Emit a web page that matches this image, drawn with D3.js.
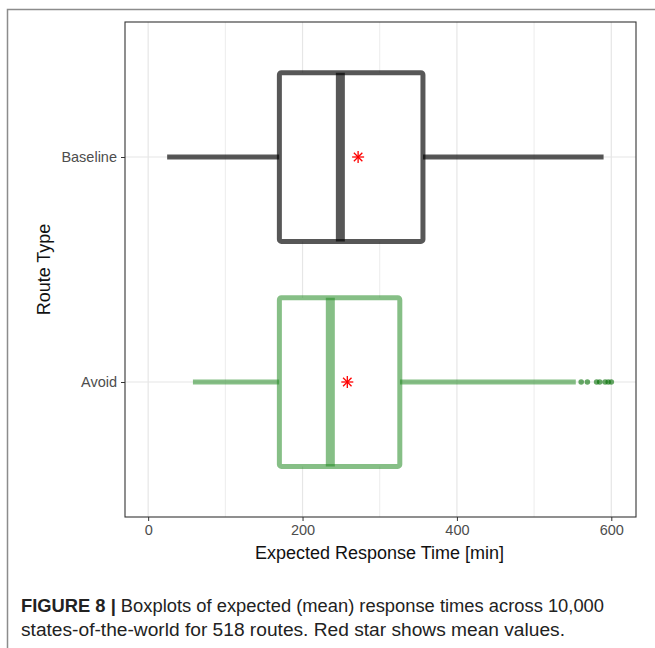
<!DOCTYPE html>
<html>
<head>
<meta charset="utf-8">
<script src="https://cdn.jsdelivr.net/npm/d3@7"></script>
<style>
  body { margin: 0; background: #fff; }
  text { font-family: "Liberation Sans", Arial, sans-serif; }
</style>
</head>
<body>
<script>
// Route types, top to bottom
var categories = ["Baseline", "Avoid"];
// Box statistics (minutes)
var whiskerLow  = [24.6, 58];
var q1          = [170, 170];
var median      = [249, 236];
var q3          = [356, 326];
var whiskerHigh = [590, 554];
var means       = [272, 258];
// Outliers of the Avoid route type
var avoidOutliers = [561, 569, 581, 585, 592, 596, 600];

var xTicks = [0, 200, 400, 600];
var xMinor = [100, 300, 500];

var colors = { Baseline: "rgba(0,0,0,0.66)", Avoid: "rgba(34,139,34,0.55)" };

var width = 655, height = 648;
var panel = { left: 125, right: 636, top: 22, bottom: 517 };

var svg = d3.select("body").append("svg")
  .attr("width", width)
  .attr("height", height);

// figure frame (right/bottom cut off)
svg.append("path")
  .attr("d", "M7.5," + height + " V9.5 H" + width)
  .attr("fill", "none")
  .attr("stroke", "#8c8c8c")
  .attr("stroke-width", 1.5);

var x = d3.scaleLinear().domain([-30, 632]).range([panel.left, panel.right]);
var y = d3.scalePoint().domain(categories)
  .range([panel.top, panel.bottom]).padding(0.6);

// grid
var grid = svg.append("g");
grid.selectAll(".minor").data(xMinor).enter().append("line")
  .attr("x1", function (d) { return x(d); }).attr("x2", function (d) { return x(d); })
  .attr("y1", panel.top).attr("y2", panel.bottom)
  .attr("stroke", "#ececec").attr("stroke-width", 1);
grid.selectAll(".major").data(xTicks).enter().append("line")
  .attr("x1", function (d) { return x(d); }).attr("x2", function (d) { return x(d); })
  .attr("y1", panel.top).attr("y2", panel.bottom)
  .attr("stroke", "#e6e6e6").attr("stroke-width", 1.2);
grid.selectAll(".ygrid").data(categories).enter().append("line")
  .attr("x1", panel.left).attr("x2", panel.right)
  .attr("y1", function (d) { return y(d); }).attr("y2", function (d) { return y(d); })
  .attr("stroke", "#e6e6e6").attr("stroke-width", 1.2);

// boxes
var boxH = y.step() * 0.75;
var boxes = svg.selectAll(".box").data(categories).enter().append("g");

boxes.append("line")
  .attr("x1", function (d, i) { return x(whiskerLow[i]); })
  .attr("x2", function (d, i) { return x(q1[i]); })
  .attr("y1", function (d) { return y(d); }).attr("y2", function (d) { return y(d); })
  .attr("stroke", function (d) { return colors[d]; }).attr("stroke-width", 5);
boxes.append("line")
  .attr("x1", function (d, i) { return x(q3[i]); })
  .attr("x2", function (d, i) { return x(whiskerHigh[i]); })
  .attr("y1", function (d) { return y(d); }).attr("y2", function (d) { return y(d); })
  .attr("stroke", function (d) { return colors[d]; }).attr("stroke-width", 5);

boxes.append("rect")
  .attr("x", function (d, i) { return x(q1[i]); })
  .attr("width", function (d, i) { return x(q3[i]) - x(q1[i]); })
  .attr("y", function (d) { return y(d) - boxH / 2; })
  .attr("height", boxH)
  .attr("rx", 2)
  .attr("fill", "#fff")
  .attr("stroke", function (d) { return colors[d]; })
  .attr("stroke-width", 5);

boxes.append("line")
  .attr("x1", function (d, i) { return x(median[i]); })
  .attr("x2", function (d, i) { return x(median[i]); })
  .attr("y1", function (d) { return y(d) - boxH / 2; })
  .attr("y2", function (d) { return y(d) + boxH / 2; })
  .attr("stroke", function (d) { return colors[d]; }).attr("stroke-width", 9);

// outliers
svg.selectAll(".outlier").data(avoidOutliers).enter().append("circle")
  .attr("cx", function (d) { return x(d); })
  .attr("cy", y("Avoid"))
  .attr("r", 2.8)
  .attr("fill", "rgba(0,110,0,0.6)");

// mean stars
svg.selectAll(".mean").data(categories).enter().append("g")
  .attr("transform", function (d, i) { return "translate(" + x(means[i]) + "," + y(d) + ")"; })
  .each(function () {
    var g = d3.select(this);
    [0, 45, 90, 135].forEach(function (a) {
      g.append("line")
        .attr("x1", -6).attr("x2", 6).attr("y1", 0).attr("y2", 0)
        .attr("transform", "rotate(" + a + ")")
        .attr("stroke", "#ff0000").attr("stroke-width", 1.3);
    });
  });

// panel border
svg.append("rect")
  .attr("x", panel.left).attr("y", panel.top)
  .attr("width", panel.right - panel.left).attr("height", panel.bottom - panel.top)
  .attr("fill", "none").attr("stroke", "#333").attr("stroke-width", 1.1);

// axes
var xAxis = svg.append("g")
  .attr("transform", "translate(0," + panel.bottom + ")")
  .call(d3.axisBottom(x).tickValues(xTicks).tickSize(4).tickPadding(4));
var yAxis = svg.append("g")
  .attr("transform", "translate(" + panel.left + ",0)")
  .call(d3.axisLeft(y).tickSize(4).tickPadding(4));
[xAxis, yAxis].forEach(function (a) {
  a.select(".domain").remove();
  a.selectAll(".tick line").attr("stroke", "#333");
  a.selectAll(".tick text").attr("fill", "#4d4d4d").style("font-size", "14.5px")
    .style("font-family", "'Liberation Sans', Arial, sans-serif");
});

svg.append("text")
  .attr("x", (panel.left + panel.right) / 2 - 1).attr("y", 559)
  .attr("text-anchor", "middle")
  .style("font-size", "18px").attr("fill", "#111")
  .text("Expected Response Time [min]");
svg.append("text")
  .attr("transform", "translate(50," + (panel.top + panel.bottom) / 2 + ") rotate(-90)")
  .attr("text-anchor", "middle")
  .style("font-size", "18px").attr("fill", "#111")
  .text("Route Type");

// caption
var cap = svg.append("text").attr("x", 21).attr("y", 612)
  .attr("textLength", 583).attr("lengthAdjust", "spacingAndGlyphs")
  .style("font-size", "17.5px").attr("fill", "#222");
cap.append("tspan").style("font-weight", "bold").text("FIGURE 8 | ");
cap.append("tspan").text("Boxplots of expected (mean) response times across 10,000");
svg.append("text").attr("x", 21).attr("y", 636)
  .attr("textLength", 544).attr("lengthAdjust", "spacingAndGlyphs")
  .style("font-size", "17.5px").attr("fill", "#222")
  .text("states-of-the-world for 518 routes. Red star shows mean values.");
</script>
</body>
</html>
